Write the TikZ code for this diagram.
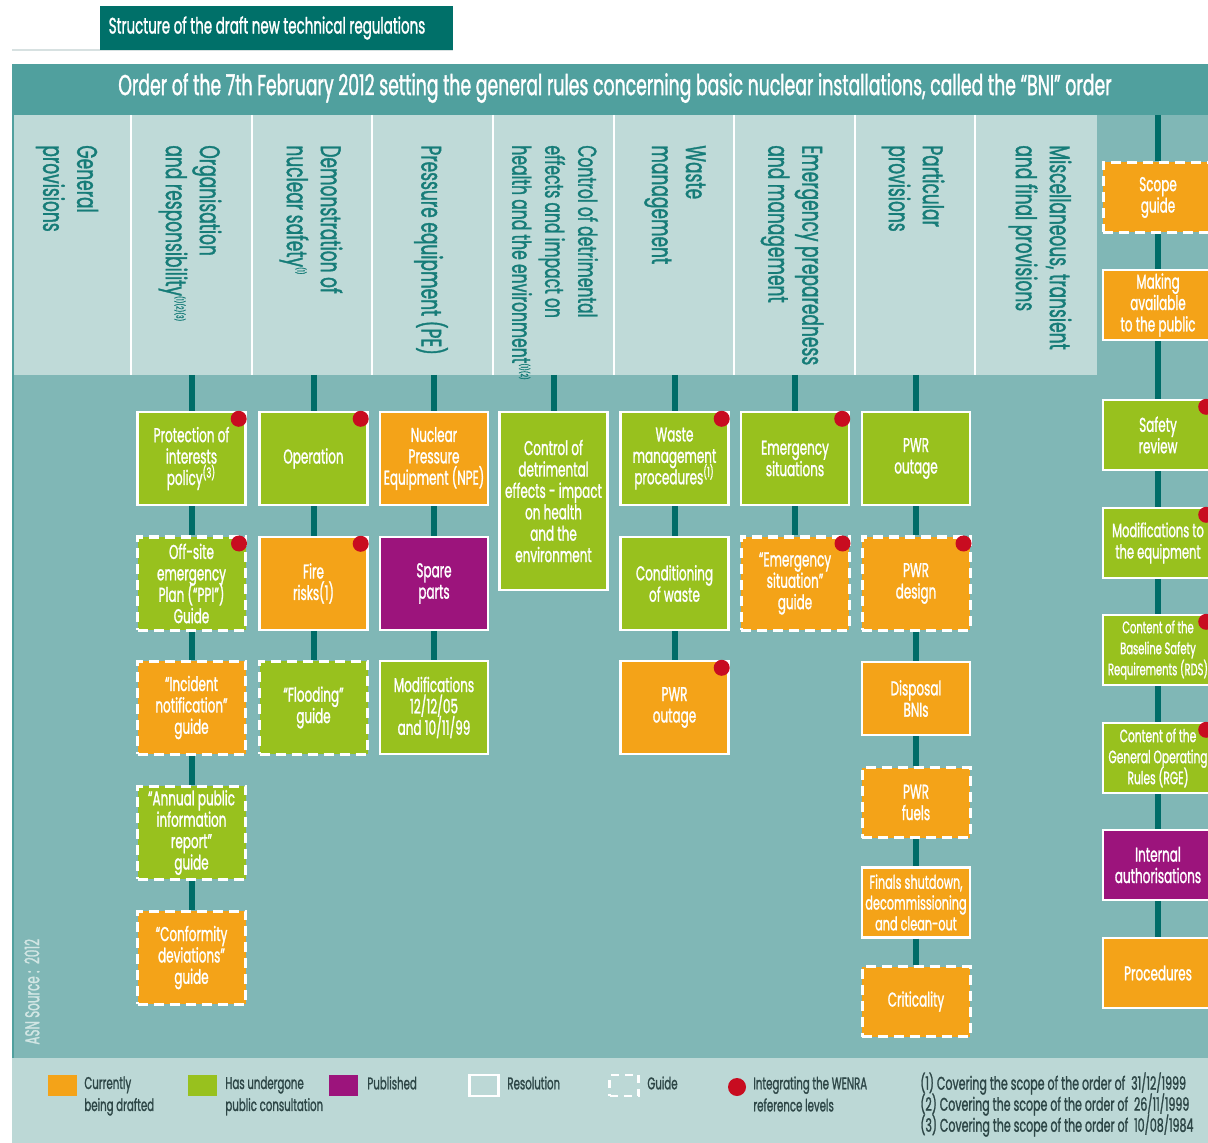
\documentclass[tikz,border=0pt]{standalone}
\usepackage{fontspec}
\setmainfont{Poppins}[FakeStretch=0.6,FakeBold=1.2]
\usetikzlibrary{calc}
\definecolor{cTitle}{RGB}{0,112,105}
\definecolor{cBanner}{RGB}{80,160,158}
\definecolor{cHead}{RGB}{191,218,216}
\definecolor{cBody}{RGB}{128,183,182}
\definecolor{cLegend}{RGB}{188,216,214}
\definecolor{cConn}{RGB}{0,108,104}
\definecolor{cOrange}{RGB}{244,163,24}
\definecolor{cGreen}{RGB}{152,193,30}
\definecolor{cPurple}{RGB}{156,20,124}
\definecolor{cRed}{RGB}{200,12,32}
\definecolor{cHText}{RGB}{22,124,120}
\definecolor{cLText}{RGB}{45,70,70}
\definecolor{cRule}{RGB}{215,225,225}
\definecolor{cSrc}{RGB}{210,230,228}
\begin{document}
\lineskiplimit=-100pt
\begin{tikzpicture}[x=0.5pt,y=-0.5pt,
  bx/.style={draw=white,line width=1.2pt,minimum width=54pt,minimum height=46.5pt,inner sep=1pt,align=center,text=white,font=\fontsize{10}{10.7}\selectfont},
  sm/.style={minimum height=35pt},
  rbx/.style={bx,minimum width=55pt,minimum height=35pt},
  guide/.style={dash pattern=on 5pt off 3pt,line width=1.5pt},
  og/.style={fill=cOrange}, gr/.style={fill=cGreen}, pu/.style={fill=cPurple},
  conn/.style={draw=cConn,line width=3pt},
  wdot/.style={circle,fill=cRed,minimum size=8pt,inner sep=0pt},
  hdr/.style={rotate=-90,anchor=west,align=left,inner sep=0pt,text=cHText,font=\fontsize{14.2}{17}\selectfont},
  lsq/.style={minimum width=14.5pt,minimum height=10.5pt,inner sep=0pt},
  ltxt/.style={anchor=north west,align=left,inner sep=0pt,text=cLText,font=\fontsize{8.5}{11}\selectfont},
]
\useasboundingbox (0,0) rectangle (1208,1143);
\clip (0,0) rectangle (1208,1143);
% backgrounds
\fill[white] (0,0) rectangle (1208,1143);
\draw[cRule,line width=1pt] (12,50) -- (453,50);
\fill[cTitle] (100,6) rectangle (453,50);
\node[text=white,font=\fontsize{11.2}{12}\selectfont,inner sep=0pt] (title) at (267,28) {Structure of the draft new technical regulations};
\fill[cBanner] (12,64) rectangle (1208,115);
\node[text=white,font=\fontsize{14.4}{16}\selectfont,inner sep=0pt] (banner) at (615,88) {Order of the 7th February 2012 setting the general rules concerning basic nuclear installations, called the ``BNI'' order};
\fill[cBody] (12,115) rectangle (1208,1058);
\fill[cHead] (12,115) rectangle (1097,375);
\foreach \x in {131,252,372,493,614,734,855,975} \draw[white,line width=1.2pt] (\x,115) -- (\x,375);
\draw[cBanner,line width=1pt] (12.5,115) -- (12.5,1058);
\fill[cLegend] (12,1058) rectangle (1208,1143);
% headers
\node[hdr] (h1) at (67,145) {General\\provisions};
\node[hdr] (h2) at (190,145) {Organisation\\and responsibility\textsuperscript{\tiny(1)(2)(3)}};
\node[hdr] (h3) at (311,145) {Demonstration of\\nuclear safety\textsuperscript{\tiny(1)}};
\node[hdr] (h4) at (431,145) {Pressure equipment (PE)};
\node[hdr,font=\fontsize{13}{16.5}\selectfont] (h5) at (555,145) {Control of detrimental\\effects and impact on\\health and the environment\textsuperscript{\tiny(1)(2)}};
\node[hdr] (h6) at (675,145) {Waste\\management};
\node[hdr] (h7) at (792,145) {Emergency preparedness\\and management};
\node[hdr] (h8) at (913,145) {Particular\\provisions};
\node[hdr] (h9) at (1040,145) {Miscellaneous, transient\\and final provisions};
\node[rotate=90,anchor=west,inner sep=0pt,text=cSrc,font=\fontsize{10}{11}\selectfont] (src) at (32,1045) {ASN Source :\ \ 2012};
\coordinate (hb) at (0,375);
\coordinate (bt) at (0,115);
% column 2
\node[bx,gr] (b21) at (191.5,458.5) {Protection of\\interests\\policy\textsuperscript{(3)}};
\node[bx,gr,guide] (b22) at (191.5,583.5) {Off-site\\emergency\\Plan (``PPI'')\\Guide};
\node[bx,og,guide] (b23) at (191.5,707.5) {``Incident\\notification''\\guide};
\node[bx,gr,guide] (b24) at (191.5,832.5) {``Annual public\\information\\report''\\guide};
\node[bx,og,guide] (b25) at (191.5,957.5) {``Conformity\\deviations''\\guide};
% column 3
\node[bx,gr] (b31) at (313.5,458.5) {Operation};
\node[bx,og] (b32) at (313.5,583.5) {Fire\\risks(1)};
\node[bx,gr,guide] (b33) at (313.5,707.5) {``Flooding''\\guide};
% column 4
\node[bx,og] (b41) at (434,458.5) {Nuclear\\Pressure\\Equipment (NPE)};
\node[bx,pu] (b42) at (434,583.5) {Spare\\parts};
\node[bx,gr] (b43) at (434,707.5) {Modifications\\12/12/05\\and 10/11/99};
% column 5
\node[bx,gr,minimum height=89pt] (b51) at (553.5,501) {Control of\\detrimental\\effects - impact\\on health\\and the\\environment};
% column 6
\node[bx,gr] (b61) at (674.5,458.5) {Waste\\management\\procedures\textsuperscript{(1)}};
\node[bx,gr] (b62) at (674.5,583.5) {Conditioning\\of waste};
\node[bx,og] (b63) at (674.5,707.5) {PWR\\outage};
% column 7
\node[bx,gr] (b71) at (795,458.5) {Emergency\\situations};
\node[bx,og,guide] (b72) at (795,583.5) {``Emergency\\situation''\\guide};
% column 8
\node[bx,gr] (b81) at (916,458.5) {PWR\\outage};
\node[bx,og,guide] (b82) at (916,583.5) {PWR\\design};
\node[bx,og,minimum height=36.5pt] (b83) at (916,698.5) {Disposal\\BNIs};
\node[bx,og,sm,guide] (b84) at (916,802.5) {PWR\\fuels};
\node[bx,og,sm,font=\fontsize{9.4}{10.4}\selectfont] (b85) at (916,902.5) {Finals shutdown,\\decommissioning\\and clean-out};
\node[bx,og,sm,guide] (b86) at (916,1001.5) {Criticality};
% right column
\node[rbx,og,guide] (r1) at (1158,197.5) {Scope\\guide};
\node[rbx,og] (r2) at (1158,305) {Making\\available\\to the public};
\node[rbx,gr] (r3) at (1158,435) {Safety\\review};
\node[rbx,gr,font=\fontsize{9.6}{10.7}\selectfont] (r4) at (1158,543) {Modifications to\\the equipment};
\node[rbx,gr,font=\fontsize{8.3}{10.5}\selectfont] (r5) at (1158,650) {Content of the\\Baseline Safety\\Requirements (RDS)};
\node[rbx,gr,font=\fontsize{8.9}{10.5}\selectfont] (r6) at (1158,758) {Content of the\\General Operating\\Rules (RGE)};
\node[rbx,pu] (r7) at (1158,865) {Internal\\authorisations};
\node[rbx,og] (r8) at (1158,973) {Procedures};
% connectors
\foreach \c in {b21,b31,b41,b51,b61,b71,b81} \draw[conn] (\c.north |- hb) -- (\c.north);
\draw[conn] (r1.north |- bt) -- (r1.north);
\foreach \a/\b in {b21/b22,b22/b23,b23/b24,b24/b25,b31/b32,b32/b33,b41/b42,b42/b43,b61/b62,b62/b63,b71/b72,b81/b82,b82/b83,b83/b84,b84/b85,b85/b86,r1/r2,r2/r3,r3/r4,r4/r5,r5/r6,r6/r7,r7/r8}
  \draw[conn] (\a.south) -- (\b.north);
% WENRA dots
\foreach \c in {b21,b22,b31,b32,b61,b63,b71,b72,b82,r3,r4,r5,r6}
  \node[wdot] (d\c) at ($(\c.north east)+(-8,8)$) {};
% legend
\node[lsq,fill=cOrange] (l1) at (62,1085.5) {};
\node[ltxt] (t1) at (84,1076) {Currently\\being drafted};
\node[lsq,fill=cGreen] (l2) at (202,1085.5) {};
\node[ltxt] (t2) at (225,1076) {Has undergone\\public consultation};
\node[lsq,fill=cPurple] (l3) at (343,1085.5) {};
\node[ltxt] (t3) at (367,1076) {Published};
\node[lsq,draw=white,line width=1.2pt] (l4) at (484,1085.5) {};
\node[ltxt] (t4) at (507,1076) {Resolution};
\node[lsq,draw=white,line width=1.2pt,dash pattern=on 4pt off 3pt] (l5) at (624,1085.5) {};
\node[ltxt] (t5) at (647,1076) {Guide};
\node[wdot,minimum size=9pt] (l6) at (737,1087) {};
\node[ltxt] (t6) at (753,1076) {Integrating the WENRA\\reference levels};
\node[ltxt,font=\fontsize{9.2}{10.5}\selectfont] (t7) at (920,1072) {(1) Covering the scope of the order of\ \ 31/12/1999\\(2) Covering the scope of the order of\ \ 26/11/1999\\(3) Covering the scope of the order of\ \ 10/08/1984};
\end{tikzpicture}
\end{document}
